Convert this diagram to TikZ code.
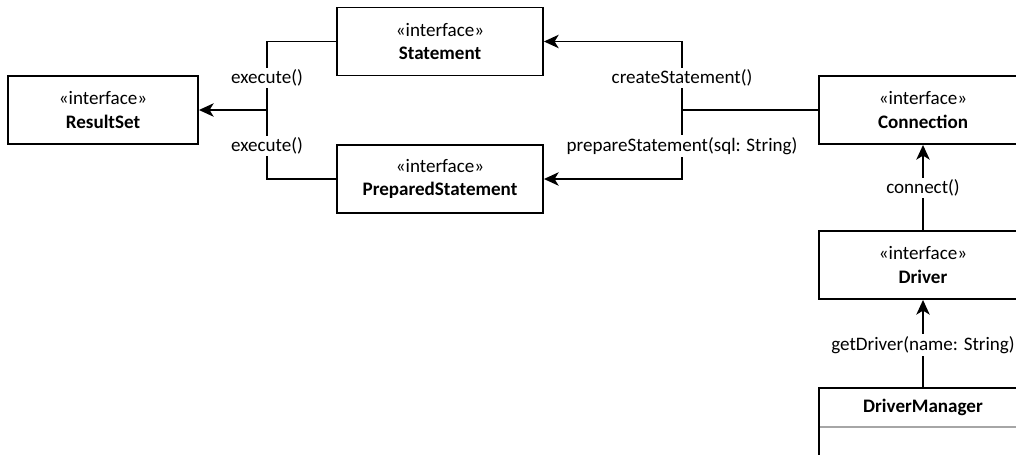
\documentclass[tikz,border=0pt]{standalone}
\usepackage{fontspec}
\setmainfont{Carlito}
\usetikzlibrary{arrows.meta}
\tikzset{
  box/.style={draw, line width=1.4pt, minimum width=156pt, minimum height=51pt, inner sep=0pt, align=center, font=\fontsize{14.3}{17.5}\selectfont},
  wire/.style={line width=1.4pt},
  arr/.style={wire, -{Stealth[length=11pt,width=10pt,inset=3pt]}},
  lbl/.style={fill=white, inner sep=1.5pt, font=\fontsize{14.3}{16}\selectfont},
}
\begin{document}
\begin{tikzpicture}[x=0.75pt,y=-0.75pt]
\clip (0,0) rectangle (1016,454);
\fill[white] (0,0) rectangle (1016,454);
\node[box, minimum width=142.5pt] (rs) at (103,110) {«interface»\\\textbf{ResultSet}};
\node[box, minimum width=154.5pt] (st) at (440,41.5) {«interface»\\\textbf{Statement}};
\node[box, minimum width=154.5pt] (ps) at (440,179) {«interface»\\\textbf{PreparedStatement}};
\node[box] (con) at (923,110) {«interface»\\\textbf{Connection}};
\node[box] (drv) at (923,265) {«interface»\\\textbf{Driver}};
\draw[line width=1.2pt, gray!70] (819,427) -- (1027,427);
\node[box, minimum height=75pt, anchor=north] (dm) at (923,387) {};
\node[font=\fontsize{14.3}{16}\selectfont\bfseries] (dmt) at (923,407) {DriverManager};
% right side
\coordinate (j1) at (682,110);
\draw[wire] (con.west) -- (j1);
\draw[arr] (j1) |- (st.east);
\draw[arr] (j1) |- (ps.east);
\node[lbl] (l1) at (682,78) {createStatement()};
\node[lbl] (l2) at (682,146) {prepareStatement(sql: String)};
% left side
\coordinate (j2) at (267,110);
\draw[wire] (st.west) -| (j2);
\draw[wire] (ps.west) -| (j2);
\draw[arr] (j2) -- (rs.east);
\node[lbl] (l3) at (267,78) {execute()};
\node[lbl] (l4) at (267,146) {execute()};
% vertical
\draw[arr] (drv.north) -- (con.south);
\node[lbl] (l5) at (923,188) {connect()};
\draw[arr] (dm.north) -- (drv.south);
\node[lbl] (l6) at (923,345) {getDriver(name: String)};
\end{tikzpicture}
\end{document}
